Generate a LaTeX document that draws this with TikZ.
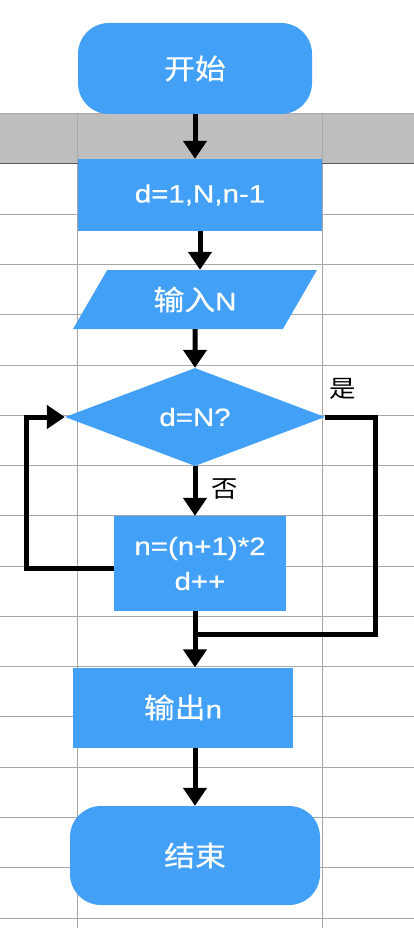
\documentclass[tikz,border=0pt]{standalone}
\usepackage{fontspec}
\setmainfont{Liberation Sans}[FakeStretch=1.18,FakeBold=0.6]
\newfontfamily\cjk{Noto Sans CJK SC}[FakeStretch=1.1,FakeBold=0.5]
\newfontfamily\cjklight{Noto Sans CJK SC}[FakeStretch=1.1]
\usepackage{tikz}
\usetikzlibrary{shapes.geometric,arrows.meta}
\definecolor{flowblue}{RGB}{66,160,246}
\definecolor{gridgray}{RGB}{168,168,168}
\definecolor{headgray}{RGB}{190,190,190}
\newcommand{\zh}[1]{{\cjk\fontsize{28}{35}\selectfont #1}}

\begin{document}
\begin{tikzpicture}[x=1pt,y=-1pt]
		\tikzstyle{box-node}=[fill=flowblue,text=white,inner sep=0pt,align=center,font=\fontsize{25}{35}\selectfont]
		\tikzstyle{term-node}=[box-node,rectangle,rounded corners=31pt]
		\tikzstyle{proc-node}=[box-node,rectangle]
		\tikzstyle{io-node}=[box-node,trapezium,trapezium left angle=58,trapezium right angle=122,trapezium stretches=true]
		\tikzstyle{cond-node}=[box-node,diamond,shape aspect=2.65]
		\tikzstyle{answer}=[font=\cjklight\fontsize{24}{28}\selectfont,inner sep=0pt]
		\tikzstyle{grid-line}=[gridgray,line width=1pt]
		\tikzstyle{link}=[line width=5pt]
		\tikzstyle{flow}=[link,-{Triangle[width=23pt,length=18pt]}]
		\useasboundingbox (0,0) rectangle (414,928);
		% sheet behind
		\fill [headgray] (0,114) rectangle (414,164);
		\draw [grid-line] (0,114) -- (414,114);
		\foreach \k in {1,...,15}
			\draw [grid-line] (0,{164+50.27*\k}) -- (414,{164+50.27*\k});
		\draw [grid-line] (77.5,114) -- (77.5,928);
		\draw [grid-line] (322,114) -- (322,928);
		\draw [black!65,line width=1pt] (0,164) -- (414,164);
		% steps
		\node [term-node,minimum width=234pt,minimum height=91pt] at (195,68.5) (start) {\zh{开始}};
		\node [proc-node,minimum width=244pt,minimum height=72pt] at (200,195) (init) {d=1,N,n-1};
		\node [io-node,minimum width=244pt,minimum height=59pt] at (195,299.5) (input) {\zh{输入}N};
		\node [cond-node,minimum width=260pt,minimum height=98pt] at (195,417) (cond) {d=N?};
		\node [proc-node,minimum width=172pt,minimum height=95pt] at (200,563.5) (update) {n=(n+1)*2\\d++};
		\node [proc-node,minimum width=220pt,minimum height=80pt] at (183,707.5) (output) {\zh{输出}n};
		\node [term-node,minimum width=250pt,minimum height=99pt] at (195,855.5) (stop) {\zh{结束}};
		\node [answer] at (343,389) (yes) {是};
		\node [answer] at (225,489) (no) {否};
		\coordinate (join) at (195,634);
		% flow
		\draw [flow] (start.south) -- (start.south |- init.north);
		\draw [flow] (init.south) -- (init.south |- input.north);
		\draw [flow] (input.south) -- (cond.north);
		\draw [flow] (cond.south) -- (cond.south |- update.north);
		\draw [flow] ([yshift=-5pt]update.west) -- ++(-87,0) |- (cond.west);
		\draw [link] (cond.east) -- ++(50,0) |- (join);
		\draw [flow] (cond.south |- update.south) -- (cond.south |- output.north);
		\draw [flow] (output.south -| stop.north) -- (stop.north);
	\end{tikzpicture}
\end{document}
